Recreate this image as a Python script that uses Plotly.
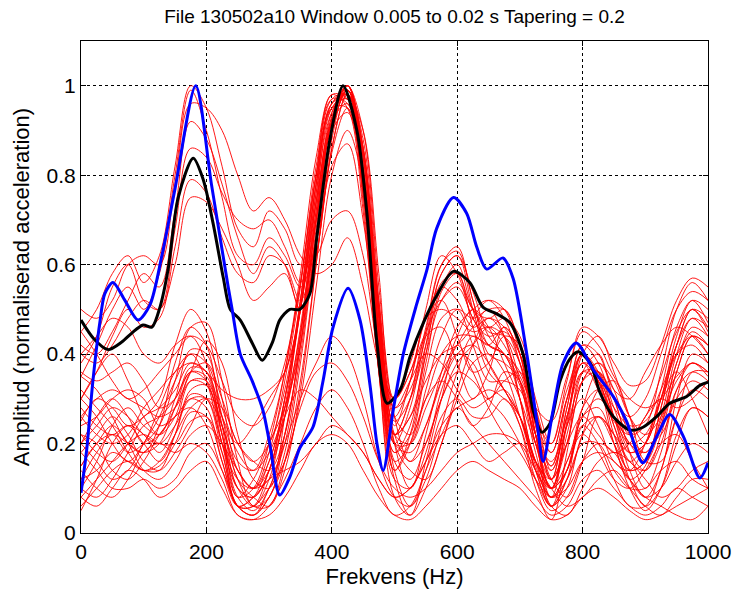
import plotly.graph_objects as go

# ---------------- data ----------------
freq_grid = [0, 25, 50, 75, 100, 125, 150, 175, 200, 225,
             250, 275, 300, 325, 350, 375, 400, 425, 450, 475,
             500, 525, 550, 575, 600, 625, 650, 675, 700, 725,
             750, 775, 800, 825, 850, 875, 900, 925, 950, 975, 1000]

red_01 = [0.45,0.5,0.58,0.62,0.56,0.62,0.82,1.0,0.95,0.82, 0.68,0.64,0.72,0.68,0.6,0.62,0.7,0.72,0.62,0.4, 0.3,0.36,0.45,0.52,0.55,0.48,0.42,0.4,0.36,0.25, 0.18,0.3,0.38,0.32,0.25,0.22,0.26,0.35,0.45,0.5, 0.46]
red_02 = [0.35,0.42,0.5,0.55,0.5,0.58,0.8,0.99,0.9,0.75, 0.62,0.6,0.66,0.62,0.55,0.65,0.82,0.87,0.7,0.42, 0.25,0.3,0.42,0.55,0.6,0.5,0.45,0.44,0.38,0.26, 0.2,0.32,0.4,0.34,0.26,0.2,0.22,0.3,0.4,0.44, 0.4]
red_03 = [0.5,0.48,0.52,0.6,0.62,0.6,0.78,0.96,0.95,0.9, 0.8,0.72,0.75,0.7,0.62,0.58,0.6,0.66,0.55,0.38, 0.3,0.38,0.48,0.5,0.48,0.45,0.46,0.42,0.35,0.28, 0.25,0.35,0.45,0.42,0.35,0.3,0.28,0.3,0.35,0.38, 0.36]
red_04 = [0.42,0.4,0.45,0.52,0.58,0.55,0.72,0.92,0.88,0.78, 0.66,0.58,0.64,0.6,0.5,0.62,0.85,0.95,0.78,0.45, 0.28,0.32,0.46,0.6,0.63,0.52,0.4,0.38,0.34,0.2, 0.12,0.28,0.4,0.36,0.24,0.16,0.2,0.32,0.46,0.52, 0.47]
red_05 = [0.38,0.44,0.55,0.6,0.52,0.5,0.68,0.86,0.84,0.76, 0.7,0.68,0.7,0.64,0.56,0.7,0.92,1.0,0.82,0.45, 0.22,0.3,0.44,0.58,0.62,0.54,0.44,0.4,0.33,0.22, 0.15,0.3,0.42,0.38,0.28,0.2,0.18,0.25,0.38,0.45, 0.42]
red_06 = [0.3,0.36,0.44,0.5,0.46,0.48,0.64,0.79,0.76,0.66, 0.58,0.56,0.62,0.6,0.52,0.66,0.9,0.99,0.85,0.5, 0.26,0.34,0.5,0.62,0.58,0.48,0.44,0.45,0.4,0.28, 0.18,0.3,0.4,0.35,0.22,0.14,0.16,0.28,0.42,0.5, 0.48]
red_07 = [0.4,0.38,0.42,0.48,0.52,0.5,0.6,0.75,0.74,0.68, 0.6,0.52,0.55,0.58,0.5,0.62,0.86,0.98,0.86,0.52, 0.3,0.36,0.48,0.55,0.52,0.46,0.48,0.46,0.38,0.25, 0.15,0.26,0.36,0.34,0.28,0.24,0.25,0.32,0.4,0.42, 0.38]
red_08 = [0.25,0.3,0.28,0.24,0.26,0.3,0.42,0.5,0.45,0.3, 0.14,0.1,0.16,0.3,0.5,0.78,0.96,0.99,0.82,0.45, 0.2,0.28,0.45,0.6,0.64,0.52,0.42,0.4,0.3,0.15, 0.08,0.25,0.4,0.34,0.2,0.12,0.15,0.28,0.42,0.5, 0.45]
red_09 = [0.15,0.2,0.22,0.18,0.2,0.24,0.34,0.46,0.47,0.34, 0.16,0.06,0.08,0.22,0.42,0.7,0.93,1.0,0.86,0.5, 0.22,0.3,0.44,0.46,0.38,0.3,0.36,0.46,0.4,0.22, 0.1,0.14,0.28,0.36,0.3,0.18,0.1,0.18,0.32,0.38, 0.35]
red_10 = [0.35,0.32,0.26,0.2,0.18,0.24,0.38,0.46,0.42,0.24, 0.08,0.12,0.2,0.28,0.42,0.68,0.92,0.99,0.84,0.46, 0.2,0.14,0.12,0.2,0.32,0.42,0.48,0.44,0.3,0.14, 0.1,0.24,0.3,0.24,0.16,0.14,0.2,0.3,0.36,0.3, 0.22]
red_11 = [0.2,0.26,0.3,0.26,0.2,0.22,0.28,0.36,0.43,0.38, 0.22,0.12,0.1,0.26,0.52,0.8,0.98,0.97,0.76,0.38, 0.14,0.22,0.4,0.56,0.58,0.5,0.48,0.5,0.42,0.24, 0.12,0.28,0.42,0.4,0.3,0.22,0.24,0.36,0.5,0.56, 0.52]
red_12 = [0.1,0.16,0.24,0.28,0.24,0.22,0.3,0.41,0.4,0.26, 0.12,0.08,0.06,0.14,0.32,0.6,0.88,1.0,0.9,0.55, 0.26,0.16,0.2,0.3,0.36,0.34,0.3,0.34,0.36,0.24, 0.12,0.08,0.16,0.26,0.22,0.12,0.06,0.1,0.2,0.28, 0.26]
red_13 = [0.3,0.26,0.2,0.16,0.2,0.28,0.36,0.4,0.34,0.2, 0.12,0.1,0.18,0.34,0.55,0.82,0.97,0.96,0.74,0.36, 0.12,0.1,0.22,0.36,0.46,0.5,0.52,0.48,0.38,0.22, 0.1,0.2,0.34,0.38,0.32,0.22,0.18,0.24,0.36,0.44, 0.42]
red_14 = [0.22,0.18,0.16,0.2,0.26,0.28,0.32,0.38,0.36,0.22, 0.06,0.06,0.14,0.26,0.44,0.72,0.94,1.0,0.84,0.44, 0.14,0.06,0.12,0.24,0.36,0.44,0.42,0.46,0.4,0.22, 0.06,0.1,0.22,0.26,0.22,0.18,0.2,0.3,0.42,0.48, 0.44]
red_15 = [0.05,0.12,0.2,0.24,0.22,0.18,0.24,0.34,0.34,0.24, 0.12,0.06,0.06,0.16,0.34,0.6,0.86,0.98,0.9,0.58, 0.28,0.34,0.4,0.38,0.32,0.28,0.3,0.32,0.26,0.16, 0.12,0.2,0.26,0.22,0.18,0.2,0.26,0.3,0.28,0.3, 0.34]
red_16 = [0.28,0.24,0.22,0.24,0.2,0.16,0.22,0.31,0.3,0.18, 0.06,0.04,0.08,0.18,0.38,0.66,0.9,0.99,0.8,0.4, 0.12,0.04,0.1,0.2,0.3,0.38,0.4,0.36,0.26,0.14, 0.06,0.12,0.2,0.2,0.14,0.1,0.1,0.14,0.16,0.12, 0.1]
red_17 = [0.18,0.22,0.26,0.22,0.16,0.14,0.18,0.24,0.3,0.28, 0.2,0.16,0.14,0.22,0.44,0.74,0.95,0.98,0.78,0.4, 0.16,0.12,0.2,0.3,0.38,0.42,0.46,0.44,0.34,0.18, 0.08,0.12,0.22,0.32,0.34,0.26,0.16,0.16,0.26,0.36, 0.36]
red_18 = [0.12,0.14,0.18,0.16,0.14,0.15,0.2,0.27,0.26,0.16, 0.06,0.06,0.1,0.16,0.3,0.55,0.8,0.9,0.78,0.48, 0.22,0.16,0.24,0.34,0.4,0.38,0.3,0.26,0.2,0.12, 0.06,0.16,0.22,0.18,0.12,0.1,0.14,0.2,0.22,0.16, 0.1]
red_19 = [0.4,0.44,0.48,0.46,0.4,0.38,0.42,0.44,0.38,0.26, 0.2,0.24,0.3,0.36,0.5,0.76,0.96,0.97,0.78,0.4, 0.18,0.24,0.42,0.58,0.62,0.5,0.38,0.32,0.26,0.16, 0.1,0.24,0.38,0.36,0.26,0.18,0.2,0.3,0.44,0.52, 0.5]
red_20 = [0.36,0.34,0.36,0.38,0.34,0.28,0.3,0.37,0.36,0.26, 0.16,0.14,0.22,0.36,0.56,0.8,0.95,0.95,0.76,0.42, 0.22,0.26,0.34,0.4,0.42,0.46,0.5,0.44,0.3,0.16, 0.1,0.22,0.36,0.4,0.32,0.3,0.36,0.42,0.46,0.44, 0.4]
red_21 = [0.15,0.2,0.24,0.2,0.14,0.12,0.16,0.22,0.24,0.2, 0.14,0.1,0.12,0.2,0.3,0.38,0.44,0.4,0.3,0.16, 0.08,0.06,0.14,0.26,0.3,0.26,0.26,0.3,0.24,0.12, 0.05,0.08,0.16,0.2,0.18,0.12,0.08,0.1,0.16,0.2, 0.18]
red_22 = [0.08,0.12,0.16,0.2,0.22,0.2,0.2,0.25,0.26,0.18, 0.06,0.08,0.16,0.26,0.32,0.3,0.26,0.22,0.18,0.12, 0.08,0.1,0.16,0.24,0.28,0.3,0.32,0.3,0.26,0.16, 0.06,0.04,0.1,0.16,0.18,0.16,0.12,0.08,0.1,0.14, 0.16]
red_23 = [0.22,0.2,0.14,0.12,0.16,0.22,0.26,0.28,0.24,0.14, 0.06,0.08,0.12,0.14,0.16,0.2,0.24,0.22,0.18,0.12, 0.08,0.1,0.16,0.22,0.24,0.2,0.16,0.18,0.2,0.16, 0.1,0.06,0.08,0.12,0.14,0.1,0.06,0.04,0.08,0.12, 0.12]
red_24 = [0.2,0.16,0.12,0.14,0.2,0.26,0.34,0.4,0.38,0.28, 0.18,0.14,0.18,0.28,0.45,0.7,0.92,1.0,0.86,0.5, 0.22,0.26,0.4,0.52,0.56,0.5,0.46,0.48,0.44,0.3, 0.2,0.34,0.46,0.44,0.38,0.33,0.34,0.42,0.52,0.57, 0.55]
red_25 = [0.06,0.1,0.14,0.16,0.14,0.14,0.22,0.32,0.33,0.22, 0.1,0.06,0.12,0.28,0.5,0.76,0.94,0.98,0.8,0.42, 0.16,0.2,0.3,0.34,0.3,0.24,0.28,0.36,0.34,0.2, 0.1,0.16,0.26,0.3,0.26,0.2,0.16,0.24,0.38,0.46, 0.44]
red_26 = [0.26,0.3,0.32,0.3,0.28,0.26,0.28,0.34,0.33,0.24, 0.14,0.1,0.14,0.26,0.46,0.72,0.92,0.96,0.76,0.36, 0.08,0.04,0.16,0.3,0.42,0.36,0.28,0.22,0.18,0.12, 0.08,0.14,0.24,0.2,0.12,0.06,0.06,0.14,0.26,0.32, 0.3]
red_27 = [0.3,0.36,0.4,0.34,0.26,0.22,0.26,0.36,0.38,0.3, 0.2,0.16,0.2,0.32,0.52,0.78,0.95,0.97,0.8,0.46, 0.24,0.34,0.48,0.52,0.44,0.36,0.38,0.44,0.42,0.28, 0.14,0.24,0.34,0.36,0.3,0.26,0.3,0.4,0.5,0.54, 0.52]
red_28 = [0.14,0.1,0.08,0.12,0.18,0.2,0.18,0.2,0.18,0.12, 0.04,0.03,0.06,0.12,0.2,0.28,0.32,0.28,0.2,0.1, 0.04,0.06,0.14,0.22,0.28,0.24,0.2,0.16,0.12,0.08, 0.04,0.06,0.12,0.14,0.1,0.06,0.04,0.06,0.1,0.08, 0.06]
red_29 = [0.26,0.22,0.2,0.22,0.28,0.32,0.36,0.38,0.36,0.32, 0.3,0.3,0.32,0.36,0.5,0.74,0.93,0.99,0.84,0.48, 0.2,0.18,0.24,0.34,0.44,0.5,0.46,0.38,0.3,0.2, 0.14,0.26,0.38,0.34,0.24,0.16,0.14,0.22,0.36,0.44, 0.42]
red_30 = [0.45,0.4,0.34,0.3,0.32,0.36,0.4,0.44,0.42,0.34, 0.26,0.24,0.28,0.38,0.56,0.8,0.97,0.98,0.8,0.44, 0.2,0.2,0.32,0.44,0.5,0.48,0.5,0.5,0.42,0.26, 0.12,0.2,0.34,0.38,0.34,0.26,0.22,0.26,0.34,0.38, 0.36]
red_31 = [0.12,0.18,0.22,0.2,0.18,0.2,0.28,0.36,0.35,0.22, 0.08,0.05,0.1,0.22,0.42,0.7,0.92,1.0,0.86,0.48, 0.18,0.22,0.38,0.54,0.58,0.46,0.36,0.32,0.24,0.1, 0.03,0.18,0.36,0.36,0.26,0.14,0.08,0.14,0.3,0.4, 0.38]
red_32 = [0.32,0.28,0.24,0.18,0.14,0.16,0.22,0.28,0.3,0.24, 0.1,0.08,0.14,0.3,0.5,0.74,0.9,0.94,0.8,0.5, 0.26,0.22,0.3,0.4,0.44,0.44,0.42,0.4,0.34,0.22, 0.16,0.26,0.4,0.44,0.36,0.26,0.2,0.22,0.3,0.34, 0.32]
red_33 = [0.18,0.14,0.1,0.1,0.12,0.1,0.12,0.18,0.2,0.14, 0.06,0.04,0.08,0.16,0.28,0.36,0.38,0.34,0.26,0.16, 0.1,0.08,0.1,0.14,0.18,0.2,0.22,0.22,0.2,0.14, 0.08,0.1,0.16,0.18,0.16,0.12,0.08,0.06,0.04,0.03, 0.06]
red_34 = [0.24,0.26,0.3,0.32,0.3,0.24,0.26,0.3,0.28,0.16, 0.06,0.04,0.1,0.2,0.4,0.66,0.9,0.99,0.88,0.52, 0.2,0.1,0.18,0.32,0.4,0.42,0.38,0.32,0.26,0.14, 0.06,0.12,0.26,0.28,0.2,0.1,0.05,0.1,0.22,0.28, 0.26]
red_35 = [0.1,0.08,0.12,0.18,0.24,0.26,0.3,0.36,0.34,0.2, 0.08,0.1,0.2,0.36,0.58,0.84,0.98,0.95,0.72,0.36, 0.14,0.2,0.36,0.48,0.5,0.42,0.34,0.34,0.32,0.2, 0.1,0.14,0.24,0.26,0.2,0.14,0.16,0.26,0.4,0.48, 0.46]
red_36 = [0.08,0.06,0.1,0.14,0.12,0.08,0.1,0.14,0.16,0.1, 0.04,0.03,0.04,0.08,0.14,0.2,0.22,0.2,0.14,0.08, 0.04,0.03,0.06,0.1,0.14,0.16,0.14,0.12,0.1,0.06, 0.03,0.04,0.08,0.1,0.08,0.05,0.03,0.04,0.06,0.08, 0.1]
red_37 = [0.2,0.24,0.28,0.26,0.22,0.2,0.24,0.3,0.3,0.2, 0.1,0.08,0.14,0.3,0.52,0.78,0.96,0.98,0.8,0.44, 0.22,0.2,0.28,0.36,0.42,0.48,0.52,0.5,0.4,0.22, 0.08,0.14,0.28,0.32,0.26,0.18,0.14,0.2,0.32,0.36, 0.34]

red_series = [red_01, red_02, red_03, red_04, red_05, red_06, red_07, red_08,
              red_09, red_10, red_11, red_12, red_13, red_14, red_15, red_16,
              red_17, red_18, red_19, red_20, red_21, red_22, red_23, red_24,
              red_25, red_26, red_27, red_28, red_29, red_30, red_31, red_32,
              red_33, red_34, red_35, red_36, red_37]

black_freq = [0, 20, 43, 65, 81, 99, 113, 126, 139, 155, 179, 195, 211, 227, 238,
              254, 273, 289, 305, 317, 333, 349, 365, 376, 397, 418, 440, 456, 472,
              488, 509, 525, 546, 567, 594, 620, 641, 663, 684, 705, 721, 735, 748,
              764, 780, 793, 812, 828, 849, 876, 897, 918, 939, 966, 987, 1000]
black_amp = [0.476, 0.435, 0.41, 0.427, 0.447, 0.465, 0.46, 0.505, 0.59, 0.75, 0.838,
             0.79, 0.69, 0.57, 0.50, 0.476, 0.425, 0.386, 0.425, 0.476, 0.50, 0.50,
             0.535, 0.66, 0.88, 1.0, 0.9, 0.715, 0.425, 0.29, 0.32, 0.395, 0.47,
             0.53, 0.585, 0.56, 0.505, 0.49, 0.47, 0.40, 0.275, 0.225, 0.245, 0.34,
             0.39, 0.405, 0.38, 0.313, 0.26, 0.23, 0.237, 0.26, 0.29, 0.305, 0.33,
             0.337]

blue_freq = [0, 9, 19, 30, 38, 51, 70, 91, 110, 129, 150, 183, 208, 233, 241, 254,
             273, 290, 301, 317, 333, 349, 370, 386, 402, 426, 445, 461, 472, 482,
             498, 514, 535, 552, 567, 594, 615, 631, 647, 673, 689, 711, 727, 737,
             753, 769, 790, 817, 849, 870, 896, 918, 939, 961, 987, 1000]
blue_amp = [0.09, 0.185, 0.34, 0.47, 0.535, 0.56, 0.52, 0.476, 0.51, 0.62, 0.77,
            1.0, 0.78, 0.565, 0.50, 0.40, 0.34, 0.275, 0.2, 0.085, 0.125, 0.19,
            0.237, 0.34, 0.46, 0.547, 0.476, 0.33, 0.2, 0.14, 0.275, 0.40, 0.51,
            0.59, 0.68, 0.75, 0.715, 0.64, 0.59, 0.615, 0.57, 0.40, 0.25, 0.16,
            0.275, 0.38, 0.425, 0.365, 0.305, 0.25, 0.157, 0.215, 0.265, 0.215,
            0.123, 0.157]

x_ticks = [0, 200, 400, 600, 800, 1000]
y_ticks = [0, 0.2, 0.4, 0.6, 0.8, 1]
y_tick_text = ["0", "0.2", "0.4", "0.6", "0.8", "1"]

title_text = "File 130502a10 Window 0.005 to 0.02 s Tapering = 0.2"
x_label = "Frekvens (Hz)"
y_label = "Amplitud (normaliserad acceleration)"

# ---------------- figure ----------------
FONT = "Liberation Sans, Arial, Helvetica, sans-serif"

fig = go.Figure()
for ys in red_series:
    fig.add_trace(go.Scatter(x=freq_grid, y=ys, mode="lines",
                             line=dict(color="#ff0000", width=0.9,
                                       shape="spline", smoothing=1.0),
                             hoverinfo="skip", showlegend=False))

fig.add_trace(go.Scatter(x=black_freq, y=black_amp, mode="lines",
                         line=dict(color="#000000", width=3,
                                   shape="spline", smoothing=0.8),
                         showlegend=False))
fig.add_trace(go.Scatter(x=blue_freq, y=blue_amp, mode="lines",
                         line=dict(color="#0000ff", width=3,
                                   shape="spline", smoothing=0.8),
                         showlegend=False))

axis_common = dict(
    showgrid=True, gridcolor="#000000", gridwidth=1, griddash="3px,3px",
    zeroline=False, showline=True, linecolor="#000000", linewidth=1,
    mirror="ticks", ticks="inside", ticklen=5, tickcolor="#000000",
    automargin=False,
    tickfont=dict(family=FONT, size=21, color="#000000"),
)

fig.update_layout(
    width=734, height=595,
    margin=dict(l=81, r=26, t=41, b=62),
    paper_bgcolor="white", plot_bgcolor="white",
    font=dict(family=FONT, color="#000000"),
    title=dict(text=title_text, x=0.5, xref="paper", xanchor="center",
               y=1 - 16 / 595, yref="container", yanchor="middle",
               font=dict(family=FONT, size=19, color="#000000")),
    xaxis=dict(range=[0, 1000], tickvals=x_ticks,
               ticktext=[str(v) for v in x_ticks],
               title=dict(text=x_label, standoff=6,
                          font=dict(family=FONT, size=22, color="#000000")),
               **axis_common),
    yaxis=dict(range=[0, 1.1], tickvals=y_ticks, ticktext=y_tick_text,
               title=dict(text=y_label, standoff=10,
                          font=dict(family=FONT, size=22, color="#000000")),
               **axis_common),
)

fig.write_html("out.html",
               config={"displayModeBar": False},
               post_script="document.body.style.margin='0';"
                           "document.body.style.padding='0';"
                           "document.body.style.overflow='hidden';")
